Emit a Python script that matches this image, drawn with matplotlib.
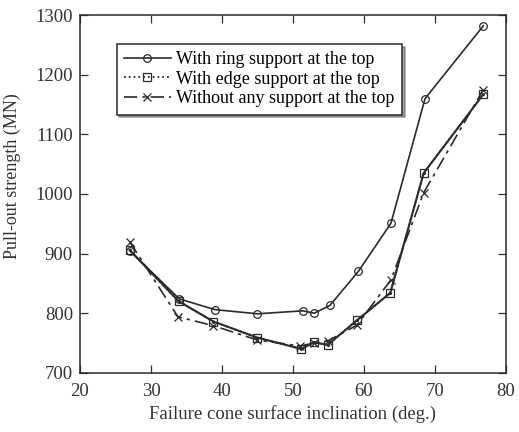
import matplotlib.pyplot as plt

# values
ring_x = [27, 34, 39, 45, 51.4, 53, 55.2, 59.2, 63.8, 68.6, 76.8]
ring_y = [905, 824, 806, 799, 804, 800, 813, 870, 951, 1160, 1282]

edge_x = [27, 33.9, 38.8, 45, 51.2, 52.9, 54.9, 59, 63.7, 68.4, 76.8]
edge_y = [906, 820, 786, 759, 740, 751, 747, 788, 834, 1035, 1167]

none_x = [27, 33.8, 38.8, 45, 51, 53, 55, 59, 63.8, 68.4, 76.8]
none_y = [920, 794, 779, 755, 745, 750, 754, 780, 856, 1002, 1175]

labels = ['With ring support at the top',
          'With edge support at the top',
          'Without any support at the top']

plt.rcParams['font.family'] = ['Liberation Serif', 'DejaVu Serif']
plt.rcParams['font.size'] = 13

fig = plt.figure(figsize=(5.19, 4.32), dpi=100)
ax = fig.add_axes([0.154, 0.137, 0.821, 0.828])

ink = '#2b2b2b'
ax.plot(ring_x, ring_y, '-', color=ink, lw=1.2, marker='o', ms=5.5,
        mfc='none', mec=ink, mew=0.9, label=labels[0])
ax.plot(edge_x, edge_y, ':', color=ink, lw=1.3, marker='s', ms=5.5,
        mfc='none', mec=ink, mew=0.9, label=labels[1])
ax.plot(edge_x, edge_y, 'none', marker='.', ms=2.5, color=ink)
ax.plot(none_x, none_y, color=ink, lw=1.2, dashes=(8, 3, 2, 3),
        marker='x', ms=5.5, mew=0.9, label=labels[2])

ax.set_xlim(20, 80)
ax.set_ylim(700, 1300)
ax.set_xticks(range(20, 81, 10))
ax.set_yticks(range(700, 1301, 100))
ax.tick_params(direction='in', top=True, right=True, length=6,
               width=0.9, labelsize=13.5, colors='#333333')
ax.tick_params(axis='x', pad=7)
ax.tick_params(axis='y', pad=5)
for s in ax.spines.values():
    s.set_linewidth(1.1)
    s.set_color(ink)

ax.set_xlabel('Failure cone surface inclination (deg.)', fontsize=13.5,
              color='#333333', labelpad=4)
ax.set_ylabel('Pull-out strength (MN)', fontsize=13, color='#333333')
ax.yaxis.set_label_coords(-0.138, 0.55)

leg = ax.legend(loc='upper left', bbox_to_anchor=(0.086, 0.92),
                frameon=True, fancybox=False, shadow=True, fontsize=13,
                handlelength=2.6, handletextpad=0.3, borderpad=0.4,
                labelspacing=0.15, borderaxespad=0)
leg.get_frame().set_edgecolor(ink)
leg.get_frame().set_linewidth(1.1)

fig.savefig('out.png', dpi=100)
